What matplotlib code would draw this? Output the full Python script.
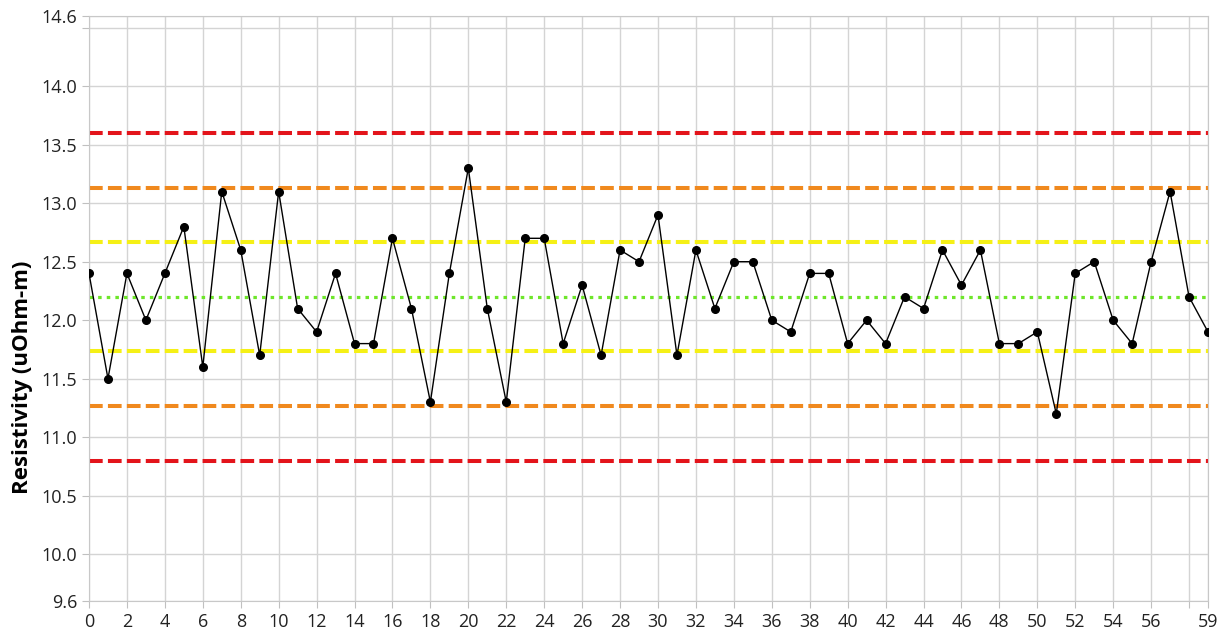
import numpy as np
import matplotlib
matplotlib.use("Agg")
from matplotlib import pyplot as plt

plt.rcParams['font.family'] = ['Open Sans', 'DejaVu Sans']

# sample index and measured resistivity
sample = list(range(60))
resistivity = [12.4, 11.5, 12.4, 12.0, 12.4, 12.8, 11.6, 13.1, 12.6, 11.7,
               13.1, 12.1, 11.9, 12.4, 11.8, 11.8, 12.7, 12.1, 11.3, 12.4,
               13.3, 12.1, 11.3, 12.7, 12.7, 11.8, 12.3, 11.7, 12.6, 12.5,
               12.9, 11.7, 12.6, 12.1, 12.5, 12.5, 12.0, 11.9, 12.4, 12.4,
               11.8, 12.0, 11.8, 12.2, 12.1, 12.6, 12.3, 12.6, 11.8, 11.8,
               11.9, 11.2, 12.4, 12.5, 12.0, 11.8, 12.5, 13.1, 12.2, 11.9]

# control limits
center = 12.2
limit_1s = [11.733, 12.667]
limit_2s = [11.267, 13.133]
limit_3s = [10.8, 13.6]

xticks = list(range(0, 59, 2)) + [59]
xticklabels = [str(t) if t != 58 else '' for t in xticks]
yticks = [9.6, 10.0, 10.5, 11.0, 11.5, 12.0, 12.5, 13.0, 13.5, 14.0, 14.5, 14.6]
yticklabels = ['%.1f' % t if t != 14.5 else '' for t in yticks]

fig = plt.figure(figsize=(12.22, 6.37), dpi=100)
ax = fig.add_axes([89/1222, 36/637, (1208-89)/1222, (601-16)/637])

for y in limit_3s:
    ax.axhline(y, color='#e3141b', lw=2.9, dashes=(3.4, 1.3), zorder=2)
for y in limit_2s:
    ax.axhline(y, color='#f0891e', lw=2.9, dashes=(3.4, 1.3), zorder=2)
for y in limit_1s:
    ax.axhline(y, color='#f5f016', lw=2.9, dashes=(3.4, 1.3), zorder=2)
ax.axhline(center, color='#6ee62a', lw=2.3, dashes=(1.1, 1.6), zorder=2)

ax.plot(sample, resistivity, color='black', lw=1, marker='o', ms=5.5, zorder=3)

ax.set_xlim(0, 59)
ax.set_ylim(9.6, 14.6)
ax.set_xticks(xticks)
ax.set_xticklabels(xticklabels)
ax.set_yticks(yticks)
ax.set_yticklabels(yticklabels)
ax.grid(True, color='#d4d4d4', lw=1)
ax.set_axisbelow(True)
for s in ax.spines.values():
    s.set_color('#c8c8c8')
ax.tick_params(colors='#c0c0c0', labelcolor='#222222', labelsize=13, length=5)
ax.set_ylabel('Resistivity (uOhm-m)', fontsize=16, fontweight='bold')
ax.yaxis.set_label_coords(-0.050, 0.383)

fig.savefig('out.png', dpi=100)
